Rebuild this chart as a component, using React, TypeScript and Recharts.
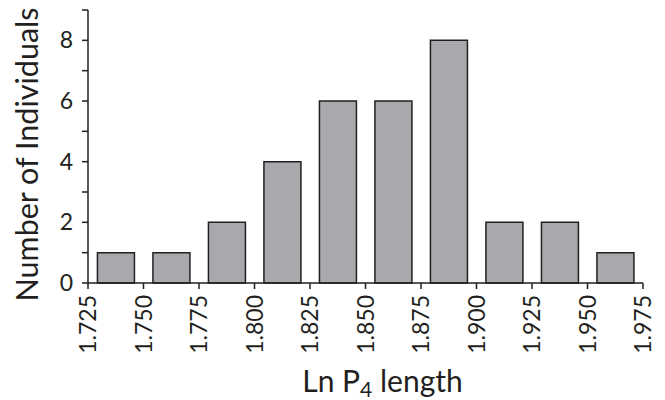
import React from 'react';
import { BarChart, Bar, XAxis, YAxis } from 'recharts';

const binMids = [1.7375, 1.7625, 1.7875, 1.8125, 1.8375, 1.8625, 1.8875, 1.9125, 1.9375, 1.9625];
const counts = [1, 1, 2, 4, 6, 6, 8, 2, 2, 1];
const xTicks = [1.725, 1.75, 1.775, 1.8, 1.825, 1.85, 1.875, 1.9, 1.925, 1.95, 1.975];
const yTicks = [0, 1, 2, 3, 4, 5, 6, 7, 8, 9];
const yLabelTicks = [0, 2, 4, 6, 8];

const data = binMids.map((m, i) => ({ mid: m, count: counts[i] }));

const FONT = 'Lato, "Open Sans", sans-serif';
const INK = '#231f20';

const XTick = (props: any) => {
  const { x, y, payload } = props;
  return (
    <g transform={`translate(${x},${y})`}>
      <text
        x={0}
        y={0}
        dy="0.36em"
        transform="rotate(-90)"
        textAnchor="end"
        fill={INK}
        fontSize={23}
        fontFamily={FONT}
      >
        {Number(payload.value).toFixed(3)}
      </text>
    </g>
  );
};

const YTitle = (props: any) => {
  const vb = props.viewBox || {};
  const cx = (vb.x ?? 0) + 26;
  const cy = (vb.y ?? 0) + (vb.height ?? 0) / 2 + 8;
  return (
    <text
      x={cx}
      y={cy}
      transform={`rotate(-90, ${cx}, ${cy})`}
      textAnchor="middle"
      dominantBaseline="central"
      fill={INK}
      fontSize={30.5}
      fontFamily={FONT}
    >
      Number of Individuals
    </text>
  );
};

const XTitle = (props: any) => {
  const vb = props.viewBox || {};
  const cx = (vb.x ?? 0) + (vb.width ?? 0) / 2 + 17;
  const by = (vb.y ?? 0) + 109;
  return (
    <text x={cx} y={by} textAnchor="middle" fill={INK} fontSize={30} fontFamily={FONT}>
      Ln P
      <tspan fontSize={21} dy={5}>4</tspan>
      <tspan dy={-5}> length</tspan>
    </text>
  );
};

export default function App() {
  return (
    <div style={{ position: 'absolute', left: 0, top: 0, background: '#fff' }}>
      <BarChart
        width={665}
        height={400}
        data={data}
        margin={{ top: 10, right: 22, bottom: 0, left: 0 }}
        barCategoryGap="17%"
      >
        <XAxis
          dataKey="mid"
          type="number"
          scale="linear"
          domain={[1.725, 1.975]}
          ticks={xTicks}
          interval={0}
          allowDataOverflow
          height={117}
          tickSize={6}
          tickMargin={6}
          axisLine={{ stroke: INK, strokeWidth: 1.5 }}
          tickLine={{ stroke: INK, strokeWidth: 1.5 }}
          tick={<XTick />}
          label={<XTitle />}
        />
        <YAxis
          width={88}
          domain={[0, 9]}
          ticks={yTicks}
          interval={0}
          tickSize={6}
          tickMargin={9}
          tickFormatter={(v: number) => (yLabelTicks.includes(v) ? String(v) : '')}
          axisLine={{ stroke: INK, strokeWidth: 1.5 }}
          tickLine={{ stroke: INK, strokeWidth: 1.5 }}
          tick={{ fill: INK, fontSize: 23, fontFamily: FONT }}
          label={<YTitle />}
        />
        <Bar
          dataKey="count"
          fill="#a7a9ac"
          stroke={INK}
          strokeWidth={1.5}
          isAnimationActive={false}
        />
      </BarChart>
    </div>
  );
}
